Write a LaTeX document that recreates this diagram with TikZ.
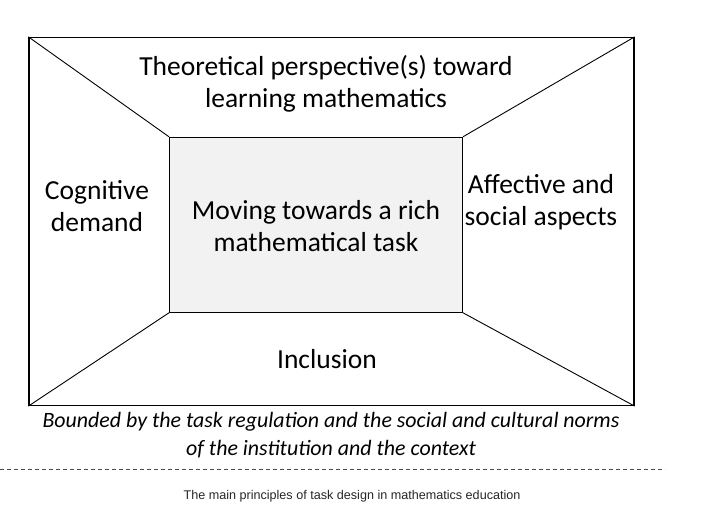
\documentclass[tikz,border=0pt]{standalone}
\usepackage{fontspec}
\setmainfont{Carlito}
\newfontfamily\captionfont{Liberation Sans}
\tikzset{
    frame/.style={draw, line width=1.3pt, inner sep=0pt},
    core/.style={draw, line width=1pt, fill=black!5, inner sep=0pt},
    label/.style={align=center, font=\fontsize{27.5}{32}\selectfont},
}
\begin{document}
\begin{tikzpicture}[x=1pt,y=-1pt]
    \useasboundingbox (0,0) rectangle (718,526);

    %cornice e rettangolo centrale
    \node[frame, minimum width=605pt, minimum height=368pt] (outer) at (331.5,221.5) {};
    \node[core, minimum width=293pt, minimum height=175pt] (inner) at (316,224.8) {};

    %diagonali
    \foreach \c in {north west, north east, south west, south east} {
        \draw[line width=0.9pt] (outer.\c) -- (inner.\c);
    }

    %testi
    \node[label] (theory) at (326,84) {Theoretical perspective(s) toward\\learning mathematics};
    \node[label] (cognitive) at (97,206) {Cognitive\\demand};
    \node[label] (affective) at (541,202) {Affective and\\social aspects};
    \node[label] (task) at (316,226.5) {Moving towards a rich\\mathematical task};
    \node[label] (inclusion) at (327,359) {Inclusion};
    \node[align=center, font=\fontsize{21.9}{28}\selectfont\itshape] (bounded) at (331,435)
        {Bounded by the task regulation and the social and cultural norms\\of the institution and the context};

    %linea tratteggiata e didascalia
    \draw[black!70, line width=0.8pt, dash pattern=on 4pt off 3pt] (0,469) -- (665,469);
    \node[font=\captionfont\fontsize{12.6}{16}\selectfont, text=black!85] (caption) at (352,496)
        {The main principles of task design in mathematics education};
\end{tikzpicture}
\end{document}
